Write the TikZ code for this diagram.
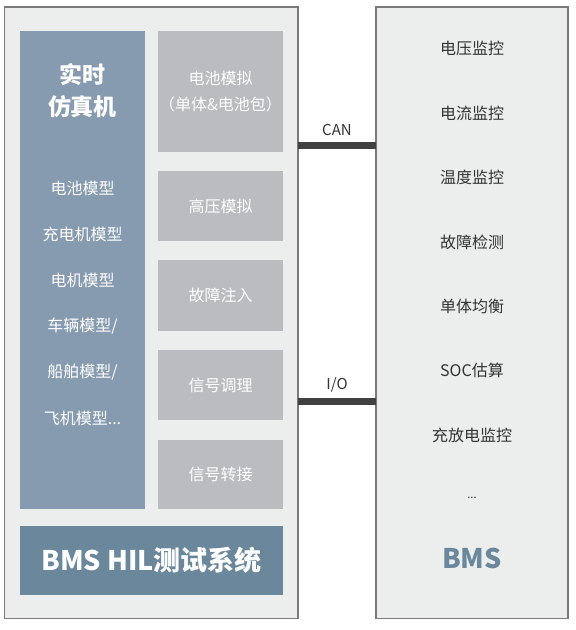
\documentclass[tikz,border=0pt]{standalone}
\usepackage{fontspec}
\setmainfont{Noto Sans CJK SC}
\definecolor{panelbg}{HTML}{ECEDED}
\definecolor{panelline}{HTML}{7A7A7A}
\definecolor{simblue}{HTML}{879BB0}
\definecolor{modgray}{HTML}{BBBCC0}
\definecolor{bandblue}{HTML}{6A879C}
\definecolor{txtdark}{HTML}{333333}
\definecolor{wire}{HTML}{404040}
\tikzset{
  panel/.style={draw=panelline, line width=1.3pt, fill=panelbg},
  simbox/.style={fill=simblue, draw=none},
  modbox/.style={fill=modgray, draw=none, text=white, font=\fontsize{16}{26}\selectfont, align=center},
  simtxt/.style={text=white, font=\fontsize{16}{19}\selectfont},
  bmstxt/.style={text=txtdark, font=\fontsize{16}{19}\selectfont},
  wirestyle/.style={draw=wire, line width=7pt},
  wirelbl/.style={text=txtdark, font=\fontsize{15}{18}\selectfont}
}
\begin{document}
\begin{tikzpicture}[x=1pt,y=-1pt]
\useasboundingbox (0,0) rectangle (576,630);
% panels
\path[panel] (4.5,7) rectangle (298,618.5);
\path[panel] (376,7) rectangle (568,618.5);
% real-time simulator
\path[simbox] (20,31) rectangle (145,509);
\node[text=white, font=\fontsize{23}{32}\selectfont\bfseries, align=center] (sim) at (82.5,91) {实时\\仿真机};
\node[simtxt] (m1) at (82.5,188) {电池模型};
\node[simtxt] (m2) at (82.5,234) {充电机模型};
\node[simtxt] (m3) at (82.5,280) {电机模型};
\node[simtxt] (m4) at (82.5,326) {车辆模型/};
\node[simtxt] (m5) at (82.5,372) {船舶模型/};
\node[simtxt] (m6) at (82.5,418) {飞机模型...};
% modules
\node[modbox, minimum width=125pt, minimum height=121pt, inner sep=0pt] (g1) at (220.5,91.5) {电池模拟\\（单体\&电池包）};
\node[modbox, minimum width=125pt, minimum height=70pt, inner sep=0pt] (g2) at (220.5,206) {高压模拟};
\node[modbox, minimum width=125pt, minimum height=71pt, inner sep=0pt] (g3) at (220.5,295.5) {故障注入};
\node[modbox, minimum width=125pt, minimum height=70pt, inner sep=0pt] (g4) at (220.5,385) {信号调理};
\node[modbox, minimum width=125pt, minimum height=69pt, inner sep=0pt] (g5) at (220.5,474.5) {信号转接};
% band
\node[fill=bandblue, minimum width=263pt, minimum height=69pt, inner sep=0pt, text=white, font=\fontsize{27}{32}\selectfont\bfseries] (band) at (151.5,560.5) {BMS HIL测试系统};
% BMS functions
\node[bmstxt] (b1) at (472,48) {电压监控};
\node[bmstxt] (b2) at (472,113) {电流监控};
\node[bmstxt] (b3) at (472,177) {温度监控};
\node[bmstxt] (b4) at (472,242) {故障检测};
\node[bmstxt] (b5) at (472,306) {单体均衡};
\node[bmstxt] (b6) at (472,370) {SOC估算};
\node[bmstxt] (b7) at (472,435) {充放电监控};
\node[bmstxt, font=\fontsize{11}{13}\selectfont] (b8) at (472,498) {...};
\node[text=bandblue, font=\fontsize{27}{32}\selectfont\bfseries] (bms) at (472,558) {BMS};
% connectors
\coordinate (canL) at (298,145);
\coordinate (canR) at (376,145);
\coordinate (ioL) at (298,401);
\coordinate (ioR) at (376,401);
\draw[wirestyle] (canL) -- (canR);
\draw[wirestyle] (ioL) -- (ioR);
\node[wirelbl] (canlbl) at (337,130) {CAN};
\node[wirelbl] (iolbl) at (337,385) {I/O};
\end{tikzpicture}
\end{document}
